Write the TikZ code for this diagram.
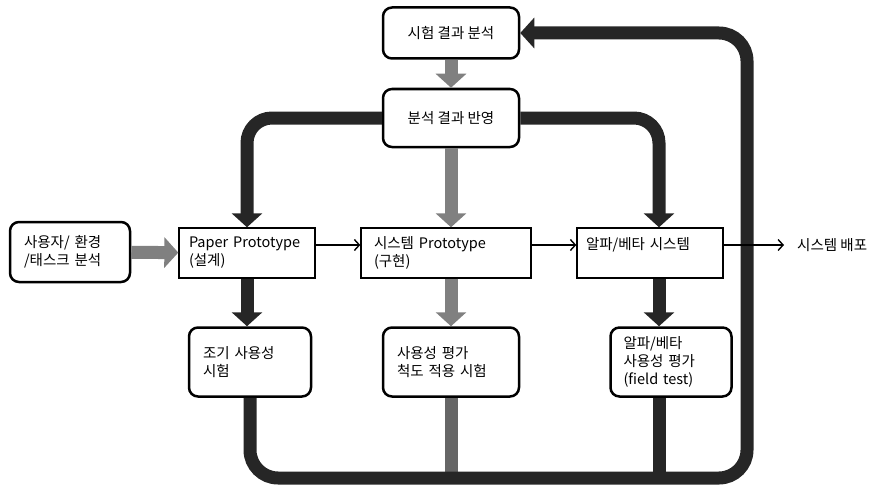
\documentclass[tikz,border=0pt]{standalone}
\usepackage{fontspec}
\newfontfamily\kofont{Noto Sans CJK KR}
\usetikzlibrary{arrows.meta}

\begin{document}
\begin{tikzpicture}[x=1pt,y=-1pt,
    font=\kofont\fontsize{14.5}{18}\selectfont,
    roundbox/.style={draw,line width=2.5pt,rounded corners=9pt,align=left,inner ysep=0pt},
    flatbox/.style={draw,line width=1.4pt,align=left,inner ysep=0pt},
    bigarrow/.style={line width=13pt,draw=black!85,-{Triangle[width=30pt,length=14pt]}},
    greyarrow/.style={bigarrow,draw=black!50},
    thinarrow/.style={line width=1.4pt,-{Straight Barb[length=5pt,width=11pt]}}]
    \useasboundingbox(0,0)rectangle(881,487);

    \node[roundbox,align=center,minimum width=136pt,minimum height=51pt](test)at(451,33){시험 결과 분석};
    \node[roundbox,align=center,minimum width=136pt,minimum height=58pt](reflect)at(451,118){분석 결과 반영};

    \node[roundbox,inner xsep=14pt,text width=92pt,minimum height=60pt](user)at(70,252){사용자/ 환경\\/태스크 분석};
    \node[flatbox,inner xsep=10pt,text width=116pt,minimum height=50pt](paper)at(247,253){Paper Prototype\\(설계)};
    \node[flatbox,inner xsep=13pt,text width=144pt,minimum height=50pt](sysproto)at(446,253){시스템 Prototype\\(구현)};
    \node[flatbox,inner xsep=9pt,text width=128pt,minimum height=50pt](alpha)at(650,253){알파/베타 시스템\\\mbox{}};
    \node[anchor=west,inner xsep=13pt](deploy)at(784,245){시스템 배포};

    \node[roundbox,inner xsep=14pt,text width=94pt,minimum height=69pt](early)at(250,362){조기 사용성\\시험};
    \node[roundbox,inner xsep=14pt,text width=108pt,minimum height=69pt](scale)at(451,362){사용성 평가\\척도 적용 시험};
    \node[roundbox,inner xsep=13pt,text width=95pt,minimum height=69pt](field)at(671,362){알파/베타\\사용성 평가\\(field test)};

    \coordinate(loopbr)at(747,478);

    \draw[greyarrow](test)--(reflect);
    \draw[bigarrow,rounded corners=25pt](reflect.west)-|(paper.north);
    \draw[greyarrow](reflect.south)--(reflect.south|-sysproto.north);
    \draw[bigarrow,rounded corners=25pt](reflect.east)-|([xshift=9pt]alpha.north);
    \draw[greyarrow](user)--(paper);

    \draw[bigarrow](paper.south)--(paper.south|-early.north);
    \draw[greyarrow](scale.north|-sysproto.south)--(scale.north);
    \draw[bigarrow]([xshift=9pt]alpha.south)--([xshift=9pt]alpha.south|-field.north);

    \draw[line width=13pt,draw=black!60](scale.south)--(scale.south|-loopbr);
    \draw[line width=13pt,draw=black!85]([xshift=-12pt]field.south)--([xshift=-12pt]field.south|-loopbr);
    \draw[bigarrow,rounded corners=28pt](early.south)|-(loopbr)|-(test.east);

    \draw[thinarrow]([yshift=8pt]paper.east)--([yshift=8pt]sysproto.west);
    \draw[thinarrow]([yshift=8pt]sysproto.east)--([yshift=8pt]alpha.west);
    \draw[thinarrow]([yshift=8pt]alpha.east)--(deploy.west);
\end{tikzpicture}
\end{document}
